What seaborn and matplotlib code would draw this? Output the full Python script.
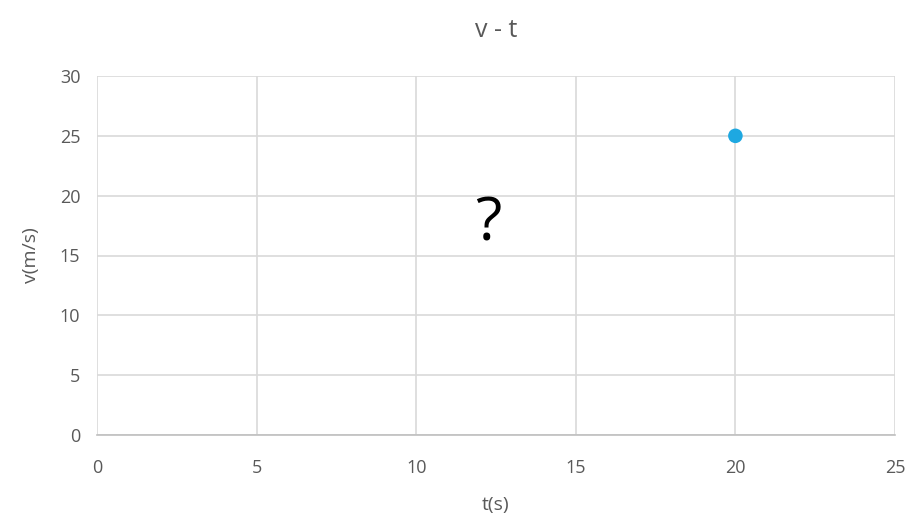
import matplotlib
matplotlib.use('Agg')
from matplotlib import pyplot as plt
import seaborn as sns
import pandas as pd

# 数据
t_vals = [20]
v_vals = [25]
x_ticks = [0, 5, 10, 15, 20, 25]
y_ticks = [0, 5, 10, 15, 20, 25, 30]

sns.set_style("white")
plt.rcParams['font.family'] = ['Open Sans', 'DejaVu Sans']

df = pd.DataFrame({'t': t_vals, 'v': v_vals})

fig = plt.figure(figsize=(9.12, 5.2), dpi=100)
ax = fig.add_axes([97 / 912, 1 - 435 / 520, 798 / 912, 359 / 520])

sns.scatterplot(data=df, x='t', y='v', ax=ax, color='#1ea8e1', s=110,
                edgecolor='none', zorder=3)

ax.set_xlim(0, 25)
ax.set_ylim(0, 30)
ax.set_xticks(x_ticks)
ax.set_yticks(y_ticks)
ax.grid(True, color='#d9d9d9', linewidth=1.2)
ax.set_axisbelow(True)
for s in ['left', 'right', 'top']:
    ax.spines[s].set_visible(False)
ax.spines['bottom'].set_color('#bfbfbf')
ax.spines['bottom'].set_linewidth(1.2)
ax.tick_params(axis='both', length=0, labelsize=13, labelcolor='#595959')
ax.tick_params(axis='x', pad=17)
ax.tick_params(axis='y', pad=12)

ax.set_xlabel('t(s)', fontsize=14, color='#595959', labelpad=14)
ax.set_ylabel('v(m/s)', fontsize=14, color='#595959', labelpad=14)
ax.set_title('v - t', fontsize=18, color='#595959', pad=28)

# 问号
ax.text(12.25, 17.6, '?', fontsize=44, color='black', ha='center', va='center')

plt.savefig('out.png', dpi=100)
